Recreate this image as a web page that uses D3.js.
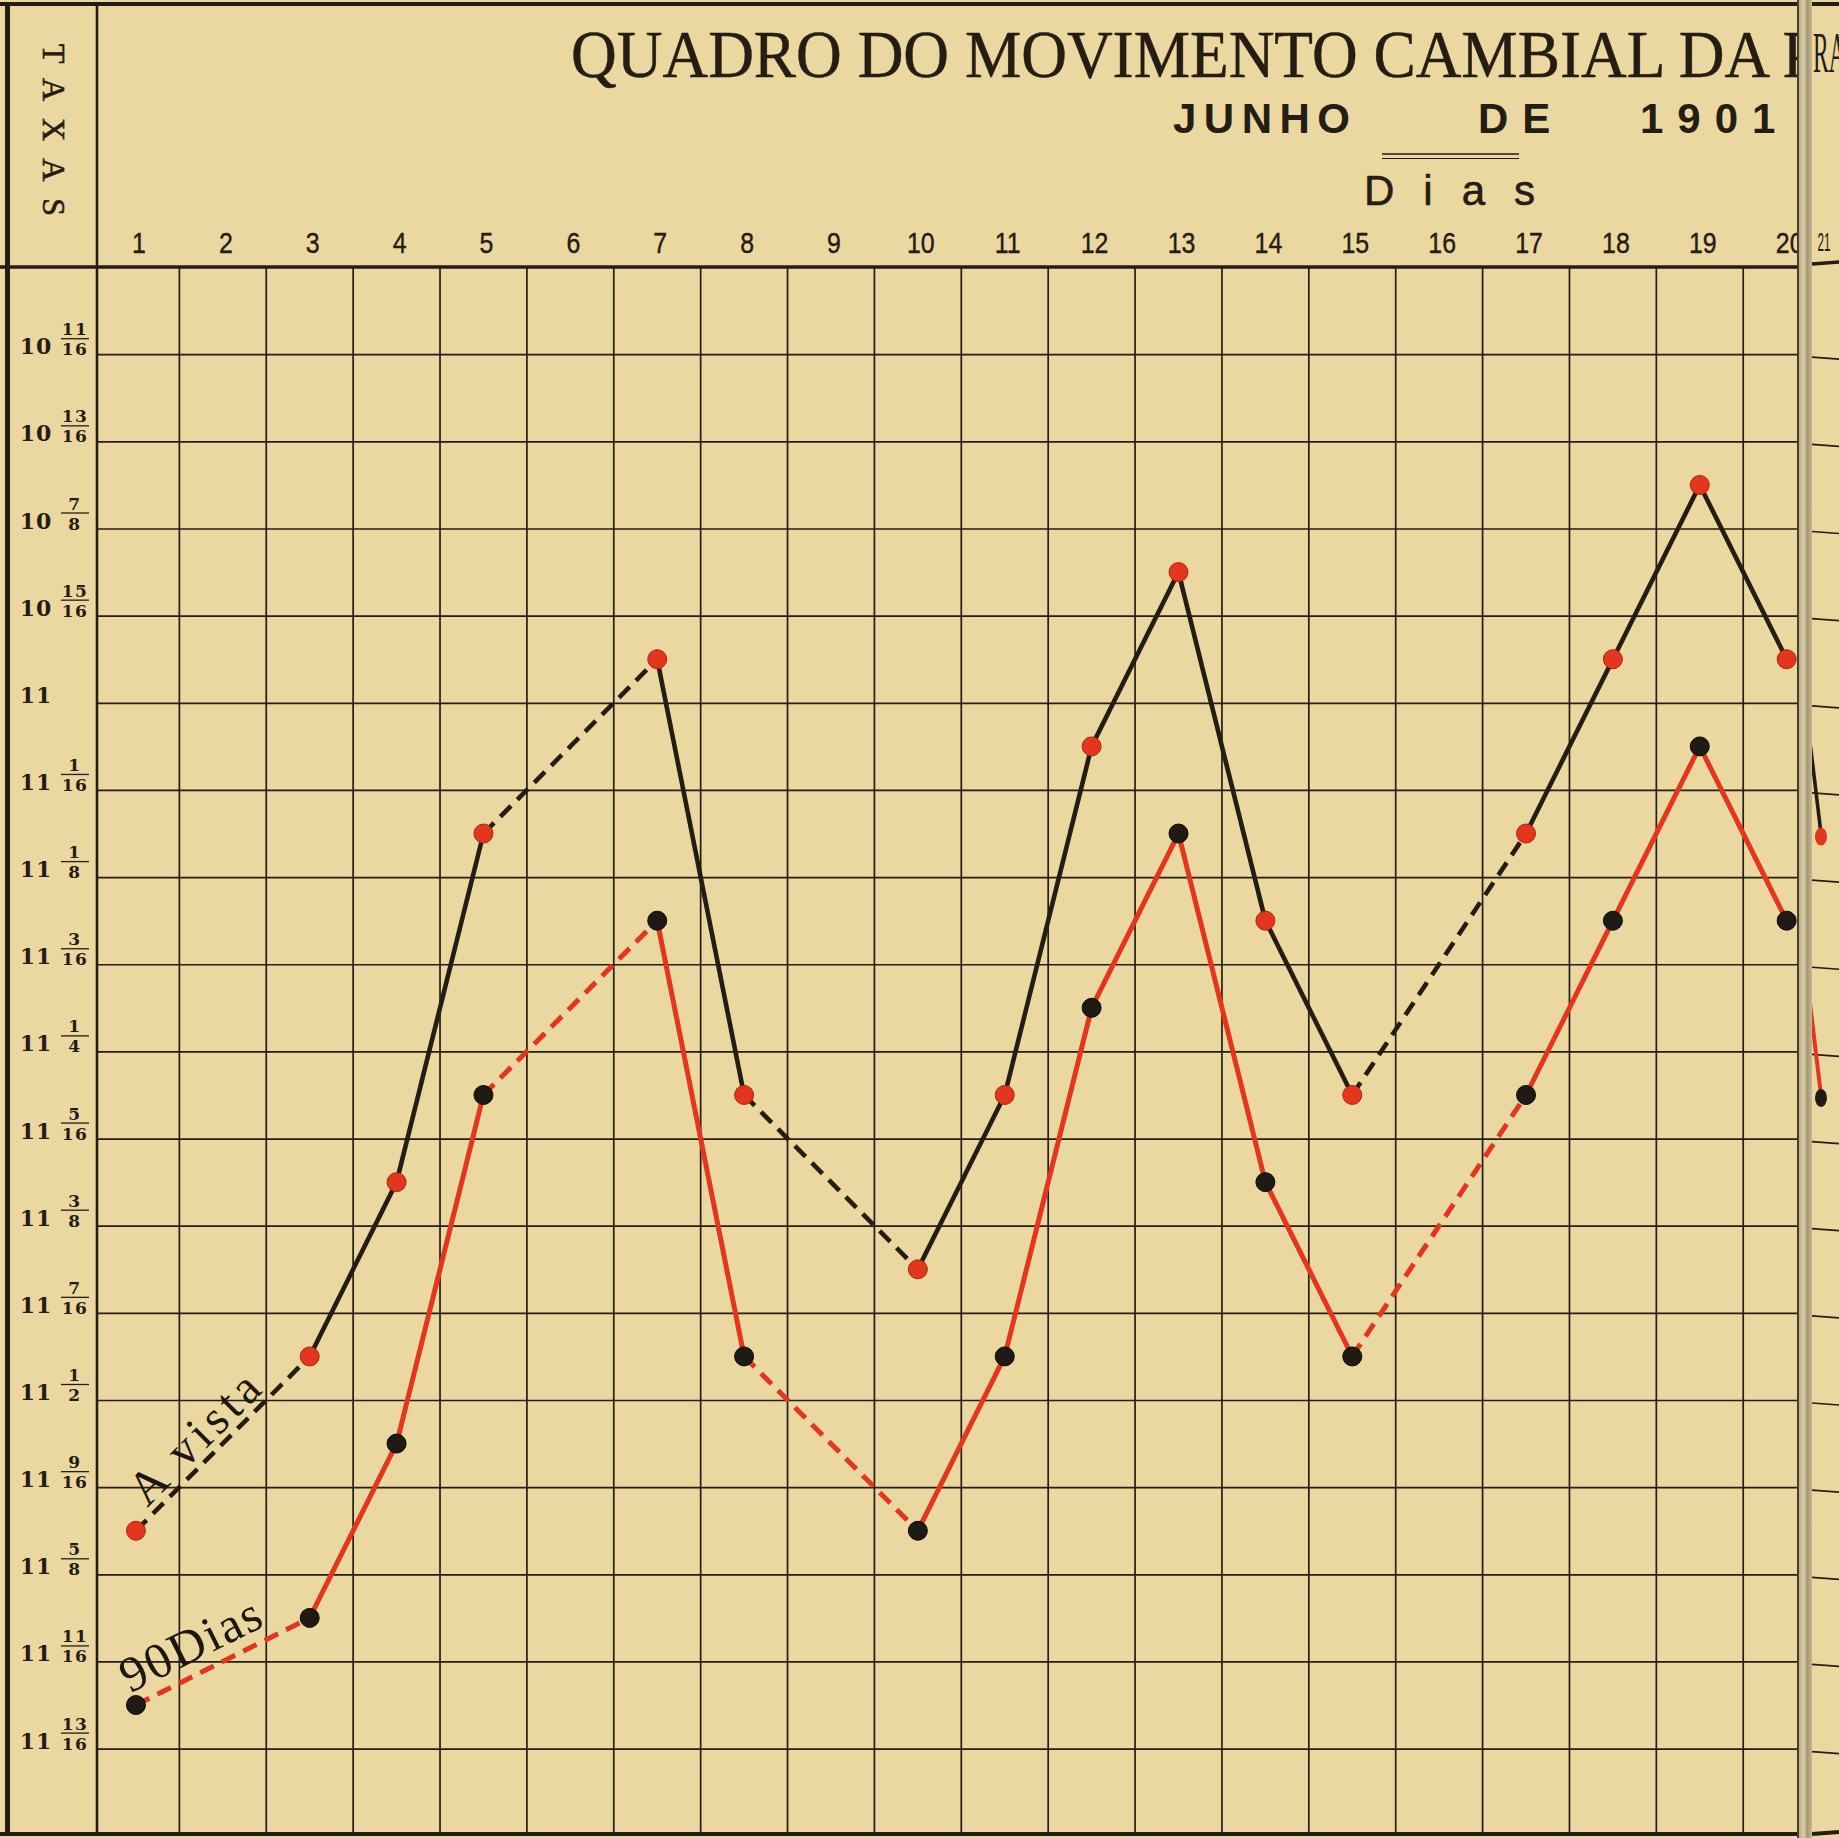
<!DOCTYPE html>
<html lang="pt">
<head>
<meta charset="utf-8">
<title>Quadro do movimento cambial — Junho de 1901</title>
<script src="https://cdn.jsdelivr.net/npm/d3@7/dist/d3.min.js"></script>
<style>
  html, body { margin: 0; padding: 0; background: #ebd7a0; }
  svg { display: block; }
</style>
</head>
<body>
<svg id="quadro" width="1839" height="1838"></svg>
<script>
// dias com cotação (2, 9 e 16 são domingos, 6 é Corpus Christi)
const dias = [1, 3, 4, 5, 7, 8, 10, 11, 12, 13, 14, 15, 17, 18, 19, 20, 21];

// câmbio à vista (dinheiros por mil-réis)
const aVista = [
  11 + 19/32, 11 + 15/32, 11 + 11/32, 11 + 3/32, 10 + 31/32, 11 + 9/32,
  11 + 13/32, 11 + 9/32, 11 + 1/32, 10 + 29/32, 11 + 5/32, 11 + 9/32,
  11 + 3/32, 10 + 31/32, 10 + 27/32, 10 + 31/32, 11 + 3/32
];

// câmbio a 90 dias
const noventaDias = [
  11 + 23/32, 11 + 21/32, 11 + 17/32, 11 + 9/32, 11 + 5/32, 11 + 15/32,
  11 + 19/32, 11 + 15/32, 11 + 7/32, 11 + 3/32, 11 + 11/32, 11 + 15/32,
  11 + 9/32, 11 + 5/32, 11 + 1/32, 11 + 5/32, 11 + 9/32
];

// colunas do quadro (dias do mês)
const diasEixo = [1, 2, 3, 4, 5, 6, 7, 8, 9, 10, 11, 12, 13, 14, 15, 16, 17, 18, 19, 20];

// linhas das taxas e os rótulos tal como impressos
const taxas = [10.75, 10.8125, 10.875, 10.9375, 11, 11.0625, 11.125, 11.1875, 11.25,
  11.3125, 11.375, 11.4375, 11.5, 11.5625, 11.625, 11.6875, 11.75];
const taxasInteiro = ["10", "10", "10", "10", "11", "11", "11", "11", "11",
  "11", "11", "11", "11", "11", "11", "11", "11"];
const taxasNumerador = ["11", "13", "7", "15", "", "1", "1", "3", "1", "5", "3", "7", "1", "9", "5", "11", "13"];
const taxasDenominador = ["16", "16", "8", "16", "", "16", "8", "16", "4", "16", "8", "16", "2", "16", "8", "16", "16"];

const W = 1839, H = 1838;
const tinta = "#241d13";
const vermelho = "#e2361d";
const papel = "#ebd7a0";
const sep = 97;        // coluna das taxas
const topoGrade = 267; // linha do cabeçalho
const baseQuadro = 1834;
const dobra = 1799;    // dobra da página

const svg = d3.select("#quadro");

svg.append("rect").attr("width", W).attr("height", H).attr("fill", papel);

const defs = svg.append("defs");
defs.append("clipPath").attr("id", "pagina")
  .append("rect").attr("x", 0).attr("y", 0).attr("width", dobra).attr("height", H);
defs.append("clipPath").attr("id", "outra")
  .append("rect").attr("x", 1812).attr("y", 0).attr("width", W - 1812).attr("height", H);
const grad = defs.append("linearGradient").attr("id", "vinco");
[["0%", "#6f6450"], ["15%", "#b9ad88"], ["45%", "#d9cda6"], ["70%", "#a39777"], ["100%", "#c8b98c"]]
  .forEach(([o, c]) => grad.append("stop").attr("offset", o).attr("stop-color", c));

const x = d3.scaleBand().domain(diasEixo).range([92.5, 92.5 + 20 * 86.88]);
const xc = d => x(d) + x.bandwidth() / 2;
const y = d3.scaleLinear().domain([10.75, 11.75]).range([354.2, 1748.6]);
// página seguinte, comprimida pela dobra
const xSeg = d3.scaleLinear().domain([20, 21]).range([1800, 1821]);

const pag = svg.append("g").attr("clip-path", "url(#pagina)");

// grade horizontal
const gradeH = pag.append("g")
  .attr("transform", `translate(${sep},0)`)
  .call(d3.axisRight(y).tickValues(taxas).tickSize(dobra - sep).tickFormat(""));
gradeH.select(".domain").remove();
gradeH.selectAll("line").attr("stroke", tinta).attr("stroke-width", 1.7);

// grade vertical
pag.append("g").selectAll("line")
  .data(diasEixo.slice(1))
  .join("line")
  .attr("x1", d => x(d)).attr("x2", d => x(d))
  .attr("y1", topoGrade).attr("y2", baseQuadro)
  .attr("stroke", tinta).attr("stroke-width", 1.7);

// moldura
pag.append("line").attr("x1", 0).attr("x2", W).attr("y1", 4).attr("y2", 4)
  .attr("stroke", tinta).attr("stroke-width", 4);
pag.append("line").attr("x1", 0).attr("x2", W).attr("y1", baseQuadro).attr("y2", baseQuadro)
  .attr("stroke", tinta).attr("stroke-width", 4);
pag.append("line").attr("x1", 0).attr("x2", W).attr("y1", topoGrade).attr("y2", topoGrade)
  .attr("stroke", tinta).attr("stroke-width", 3.5);
svg.append("line").attr("x1", 7.5).attr("x2", 7.5).attr("y1", 2).attr("y2", baseQuadro + 2)
  .attr("stroke", tinta).attr("stroke-width", 5);
svg.append("line").attr("x1", sep).attr("x2", sep).attr("y1", 2).attr("y2", baseQuadro + 2)
  .attr("stroke", tinta).attr("stroke-width", 2.6);

// eixo dos dias
const eixoDias = pag.append("g")
  .attr("transform", `translate(0,253)`)
  .call(d3.axisTop(x).tickSize(0).tickPadding(0));
eixoDias.select(".domain").remove();
eixoDias.selectAll("text")
  .attr("font-family", "'Liberation Sans', Arial, sans-serif")
  .attr("font-size", 29)
  .attr("fill", tinta)
  .attr("stroke", tinta).attr("stroke-width", 0.4)
  .attr("transform", "translate(3,0) scale(0.86,1)");

// rótulos das taxas
const rotTaxa = svg.append("g").selectAll("g")
  .data(taxas)
  .join("g")
  .attr("transform", d => `translate(0,${y(d)})`)
  .attr("fill", tinta)
  .attr("font-family", "'DejaVu Serif', 'Liberation Serif', serif")
  .attr("font-weight", "bold");
rotTaxa.append("text")
  .attr("x", 36).attr("y", 0)
  .attr("text-anchor", "middle")
  .attr("font-size", 22)
  .attr("letter-spacing", 1)
  .text((d, i) => taxasInteiro[i]);
rotTaxa.filter((d, i) => taxasNumerador[i] !== "").each(function(d) {
  const j = taxas.indexOf(d);
  const g = d3.select(this);
  g.append("text").attr("x", 75).attr("y", -19).attr("text-anchor", "middle")
    .attr("font-size", 17).attr("letter-spacing", 1.5).text(taxasNumerador[j]);
  g.append("line").attr("x1", 61).attr("x2", 89).attr("y1", -15.5).attr("y2", -15.5)
    .attr("stroke", tinta).attr("stroke-width", 1.3);
  g.append("text").attr("x", 75).attr("y", 1).attr("text-anchor", "middle")
    .attr("font-size", 17).attr("letter-spacing", 1.5).text(taxasDenominador[j]);
});

// TAXAS na vertical
svg.append("text")
  .attr("transform", "translate(43,44) rotate(90)")
  .attr("font-family", "'Liberation Serif', serif")
  .attr("font-size", 32)
  .attr("letter-spacing", 17)
  .attr("fill", tinta)
  .attr("stroke", tinta).attr("stroke-width", 0.6)
  .text("TAXAS");

// título (cortado pela dobra)
const titulo = pag.append("text")
  .attr("font-family", "'Liberation Serif', 'Times New Roman', serif")
  .attr("font-size", 67)
  .attr("fill", tinta)
  .attr("stroke", tinta).attr("stroke-width", 0.5)
  .text("QUADRO DO MOVIMENTO CAMBIAL DA P");
const largura = titulo.node().getSubStringLength(0, 30);
titulo.attr("transform", `translate(571,77) scale(${1196 / largura},1)`);

const sub = pag.append("g")
  .attr("font-family", "'Liberation Sans', Arial, sans-serif")
  .attr("font-size", 42)
  .attr("font-weight", "bold")
  .attr("fill", tinta);
sub.append("text").attr("x", 1173).attr("y", 133).attr("letter-spacing", 7.5).text("JUNHO");
sub.append("text").attr("x", 1478).attr("y", 133).attr("letter-spacing", 14).text("DE");
sub.append("text").attr("x", 1640).attr("y", 133).attr("letter-spacing", 14).text("1901");

pag.append("line").attr("x1", 1382).attr("x2", 1519).attr("y1", 154).attr("y2", 154)
  .attr("stroke", tinta).attr("stroke-width", 1.6);
pag.append("line").attr("x1", 1382).attr("x2", 1519).attr("y1", 158.5).attr("y2", 158.5)
  .attr("stroke", tinta).attr("stroke-width", 1.2);
pag.append("text").attr("x", 1364).attr("y", 205)
  .attr("font-family", "'Liberation Sans', Arial, sans-serif")
  .attr("font-size", 42).attr("letter-spacing", 29)
  .attr("fill", tinta).attr("stroke", tinta).attr("stroke-width", 0.6)
  .text("Dias");

// séries
const pontos = serie => dias.map((d, i) => ({ dia: d, v: serie[i] }));
const trechos = pts => d3.pairs(pts).map(([a, b]) => ({ a, b, salto: b.dia - a.dia > 1 }));

const series = [
  { nome: "A vista", valores: aVista, linha: tinta, ponto: vermelho, largura: 4.6 },
  { nome: "90Dias", valores: noventaDias, linha: vermelho, ponto: "#1e1b15", largura: 5 }
];

const linha = xf => d3.line().x(p => xf(p.dia)).y(p => y(p.v));

series.forEach(s => {
  const pts = pontos(s.valores).filter(p => p.dia <= 20);
  pag.append("g").selectAll("path")
    .data(trechos(pts))
    .join("path")
    .attr("d", t => linha(xc)([t.a, t.b]))
    .attr("fill", "none")
    .attr("stroke", s.linha)
    .attr("stroke-width", s.largura)
    .attr("stroke-dasharray", t => t.salto ? "15,9" : null);
});
series.forEach(s => {
  const pts = pontos(s.valores).filter(p => p.dia <= 20);
  pag.append("g").selectAll("circle")
    .data(pts)
    .join("circle")
    .attr("cx", p => xc(p.dia))
    .attr("cy", p => y(p.v))
    .attr("r", 9.5)
    .attr("fill", s.ponto)
    .attr("stroke", s.ponto === vermelho ? "#b3230f" : "#0d0c09")
    .attr("stroke-width", 1);
});

// nomes das séries ao longo do primeiro trecho
function rotulo(s, along, perp, tam, esp) {
  const pts = pontos(s.valores);
  const x0 = xc(pts[0].dia), y0 = y(pts[0].v);
  const x1 = xc(pts[1].dia), y1 = y(pts[1].v);
  const ang = Math.atan2(y1 - y0, x1 - x0);
  const ux = Math.cos(ang), uy = Math.sin(ang);
  const px = x0 + ux * along + uy * perp;
  const py = y0 + uy * along - ux * perp;
  pag.append("text")
    .attr("transform", `translate(${px},${py}) rotate(${ang * 180 / Math.PI})`)
    .attr("font-family", "'Liberation Serif', 'Times New Roman', serif")
    .attr("font-size", tam)
    .attr("letter-spacing", esp)
    .attr("fill", "#1c170f")
    .text(s.nome);
}
rotulo(series[0], 24, 8, 48, 5);
rotulo(series[1], 0, 13, 50, 2);

// vinco da encadernação
svg.append("rect").attr("x", 1797).attr("y", 0).attr("width", 15).attr("height", H)
  .attr("fill", "url(#vinco)");
svg.append("line").attr("x1", 1798).attr("x2", 1798).attr("y1", 0).attr("y2", H)
  .attr("stroke", "#3a3020").attr("stroke-width", 1.6);

// pedaço da página seguinte
const outra = svg.append("g").attr("clip-path", "url(#outra)");
outra.append("g").selectAll("line")
  .data(taxas)
  .join("line")
  .attr("x1", 1812).attr("x2", W)
  .attr("y1", d => y(d) + 3).attr("y2", d => y(d) + 5)
  .attr("stroke", tinta).attr("stroke-width", 1.7);
outra.append("line").attr("x1", 1812).attr("x2", W).attr("y1", 264).attr("y2", 262)
  .attr("stroke", tinta).attr("stroke-width", 3.5);
outra.append("line").attr("x1", 1812).attr("x2", W).attr("y1", 4).attr("y2", 4)
  .attr("stroke", tinta).attr("stroke-width", 4);
outra.append("line").attr("x1", 1812).attr("x2", W).attr("y1", baseQuadro).attr("y2", baseQuadro - 2)
  .attr("stroke", tinta).attr("stroke-width", 4);
outra.append("text")
  .attr("transform", "translate(1813,72) scale(0.42,1)")
  .attr("font-family", "'Liberation Serif', serif")
  .attr("font-size", 56).attr("fill", tinta).text("RAÇA");
outra.append("text")
  .attr("transform", `translate(${xSeg(21) + 3},251) scale(0.45,1)`)
  .attr("text-anchor", "middle")
  .attr("font-family", "'Liberation Sans', sans-serif")
  .attr("font-size", 26).attr("fill", tinta).text("21");

series.forEach(s => {
  const pts = pontos(s.valores).filter(p => p.dia >= 20);
  outra.append("g").selectAll("path")
    .data(trechos(pts))
    .join("path")
    .attr("d", t => linha(xSeg)([t.a, t.b]))
    .attr("fill", "none")
    .attr("stroke", s.linha)
    .attr("stroke-width", s.largura - 1);
});
series.forEach(s => {
  const pts = pontos(s.valores).filter(p => p.dia === 21);
  outra.append("g").selectAll("ellipse")
    .data(pts)
    .join("ellipse")
    .attr("cx", p => xSeg(p.dia))
    .attr("cy", p => y(p.v) + 3)
    .attr("rx", 6).attr("ry", 9)
    .attr("fill", s.ponto);
});
</script>
</body>
</html>
